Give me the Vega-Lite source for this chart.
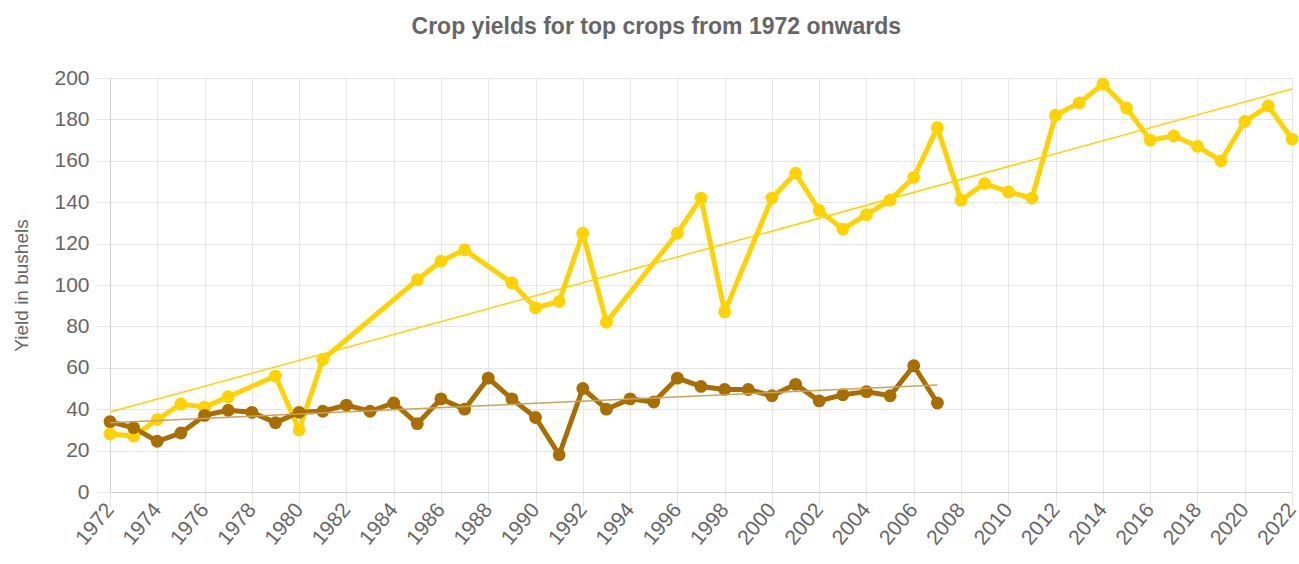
{
  "$schema": "https://vega.github.io/schema/vega-lite/v6.json",
  "width": 1182,
  "height": 414,
  "autosize": {"type": "none"},
  "padding": {"left": 110, "top": 78, "right": 7, "bottom": 72},
  "background": "white",
  "config": {
    "font": "Liberation Sans",
    "view": {"stroke": null},
    "axis": {
      "gridColor": "#e5e5e5",
      "gridWidth": 1,
      "tickColor": "#e5e5e5",
      "tickSize": 14,
      "domainColor": "#d0d0d0",
      "labelColor": "#666666",
      "labelFont": "Liberation Sans",
      "labelFontSize": 21,
      "titleColor": "#666666",
      "titleFont": "Liberation Sans",
      "titleFontWeight": "normal",
      "titleFontSize": 19
    }
  },
  "title": {
    "text": "Crop yields for top crops from 1972 onwards",
    "font": "Liberation Sans",
    "fontSize": 23,
    "fontWeight": "bold",
    "color": "#666666",
    "anchor": "middle",
    "frame": "bounds",
    "offset": 28
  },
  "datasets": {
    "yields": [
      {"year": 1972, "crop": "Corn", "yield": 28},
      {"year": 1973, "crop": "Corn", "yield": 27},
      {"year": 1974, "crop": "Corn", "yield": 35},
      {"year": 1975, "crop": "Corn", "yield": 42.5},
      {"year": 1976, "crop": "Corn", "yield": 41},
      {"year": 1977, "crop": "Corn", "yield": 46},
      {"year": 1979, "crop": "Corn", "yield": 56},
      {"year": 1980, "crop": "Corn", "yield": 30},
      {"year": 1981, "crop": "Corn", "yield": 64},
      {"year": 1985, "crop": "Corn", "yield": 102.5},
      {"year": 1986, "crop": "Corn", "yield": 111.5},
      {"year": 1987, "crop": "Corn", "yield": 117},
      {"year": 1989, "crop": "Corn", "yield": 101},
      {"year": 1990, "crop": "Corn", "yield": 89},
      {"year": 1991, "crop": "Corn", "yield": 92},
      {"year": 1992, "crop": "Corn", "yield": 125},
      {"year": 1993, "crop": "Corn", "yield": 82},
      {"year": 1996, "crop": "Corn", "yield": 125},
      {"year": 1997, "crop": "Corn", "yield": 142},
      {"year": 1998, "crop": "Corn", "yield": 87},
      {"year": 2000, "crop": "Corn", "yield": 142},
      {"year": 2001, "crop": "Corn", "yield": 154},
      {"year": 2002, "crop": "Corn", "yield": 136},
      {"year": 2003, "crop": "Corn", "yield": 127},
      {"year": 2004, "crop": "Corn", "yield": 134},
      {"year": 2005, "crop": "Corn", "yield": 141},
      {"year": 2006, "crop": "Corn", "yield": 152},
      {"year": 2007, "crop": "Corn", "yield": 176},
      {"year": 2008, "crop": "Corn", "yield": 141},
      {"year": 2009, "crop": "Corn", "yield": 149},
      {"year": 2010, "crop": "Corn", "yield": 145},
      {"year": 2011, "crop": "Corn", "yield": 142},
      {"year": 2012, "crop": "Corn", "yield": 182},
      {"year": 2013, "crop": "Corn", "yield": 188},
      {"year": 2014, "crop": "Corn", "yield": 197},
      {"year": 2015, "crop": "Corn", "yield": 185.5},
      {"year": 2016, "crop": "Corn", "yield": 170},
      {"year": 2017, "crop": "Corn", "yield": 172},
      {"year": 2018, "crop": "Corn", "yield": 167},
      {"year": 2019, "crop": "Corn", "yield": 160},
      {"year": 2020, "crop": "Corn", "yield": 179},
      {"year": 2021, "crop": "Corn", "yield": 186.5},
      {"year": 2022, "crop": "Corn", "yield": 170.5},
      {"year": 1972, "crop": "Wheat", "yield": 34},
      {"year": 1973, "crop": "Wheat", "yield": 31},
      {"year": 1974, "crop": "Wheat", "yield": 24.5},
      {"year": 1975, "crop": "Wheat", "yield": 28.5},
      {"year": 1976, "crop": "Wheat", "yield": 37},
      {"year": 1977, "crop": "Wheat", "yield": 39.5},
      {"year": 1978, "crop": "Wheat", "yield": 38.5},
      {"year": 1979, "crop": "Wheat", "yield": 33.5},
      {"year": 1980, "crop": "Wheat", "yield": 38.5},
      {"year": 1981, "crop": "Wheat", "yield": 39},
      {"year": 1982, "crop": "Wheat", "yield": 42},
      {"year": 1983, "crop": "Wheat", "yield": 39},
      {"year": 1984, "crop": "Wheat", "yield": 43},
      {"year": 1985, "crop": "Wheat", "yield": 33},
      {"year": 1986, "crop": "Wheat", "yield": 45},
      {"year": 1987, "crop": "Wheat", "yield": 40},
      {"year": 1988, "crop": "Wheat", "yield": 55},
      {"year": 1989, "crop": "Wheat", "yield": 45},
      {"year": 1990, "crop": "Wheat", "yield": 36},
      {"year": 1991, "crop": "Wheat", "yield": 18},
      {"year": 1992, "crop": "Wheat", "yield": 50},
      {"year": 1993, "crop": "Wheat", "yield": 40},
      {"year": 1994, "crop": "Wheat", "yield": 45},
      {"year": 1995, "crop": "Wheat", "yield": 43.5},
      {"year": 1996, "crop": "Wheat", "yield": 55},
      {"year": 1997, "crop": "Wheat", "yield": 51},
      {"year": 1998, "crop": "Wheat", "yield": 49.5},
      {"year": 1999, "crop": "Wheat", "yield": 49.5},
      {"year": 2000, "crop": "Wheat", "yield": 46.5},
      {"year": 2001, "crop": "Wheat", "yield": 52},
      {"year": 2002, "crop": "Wheat", "yield": 44},
      {"year": 2003, "crop": "Wheat", "yield": 47},
      {"year": 2004, "crop": "Wheat", "yield": 48.5},
      {"year": 2005, "crop": "Wheat", "yield": 46.5},
      {"year": 2006, "crop": "Wheat", "yield": 61},
      {"year": 2007, "crop": "Wheat", "yield": 43}
    ],
    "trends": [
      {"year": 1972, "crop": "Corn trend", "yield": 38.6},
      {"year": 2022, "crop": "Corn trend", "yield": 194.7},
      {"year": 1972, "crop": "Wheat trend", "yield": 33.5},
      {"year": 2007, "crop": "Wheat trend", "yield": 51.7}
    ]
  },
  "encoding": {
    "x": {
      "field": "year",
      "type": "quantitative",
      "scale": {"domain": [1972, 2022], "nice": false, "zero": false},
      "axis": {
        "title": null,
        "values": [1972, 1974, 1976, 1978, 1980, 1982, 1984, 1986, 1988, 1990, 1992, 1994, 1996, 1998, 2000, 2002, 2004, 2006, 2008, 2010, 2012, 2014, 2016, 2018, 2020, 2022],
        "format": "d",
        "labelAngle": -50,
        "labelPadding": 0,
        "labelFlush": false,
        "labelOverlap": false
      }
    },
    "y": {
      "field": "yield",
      "type": "quantitative",
      "scale": {"domain": [0, 200], "nice": false},
      "axis": {
        "title": "Yield in bushels",
        "values": [0, 20, 40, 60, 80, 100, 120, 140, 160, 180, 200],
        "labelPadding": 7,
        "titlePadding": 22
      }
    },
    "color": {
      "field": "crop",
      "type": "nominal",
      "scale": {
        "domain": ["Corn", "Wheat", "Corn trend", "Wheat trend"],
        "range": ["#FFD300", "#A86F00", "#FFD300", "#C9A45A"]
      },
      "legend": null
    }
  },
  "layer": [
    {
      "data": {"name": "yields"},
      "mark": {
        "type": "line",
        "strokeWidth": 5,
        "strokeJoin": "round",
        "point": {"filled": true, "size": 165, "opacity": 1}
      },
      "encoding": {
        "order": {"field": "year", "type": "quantitative"}
      }
    },
    {
      "data": {"name": "trends"},
      "mark": {"type": "line", "strokeWidth": 1.5},
      "encoding": {}
    }
  ]
}
